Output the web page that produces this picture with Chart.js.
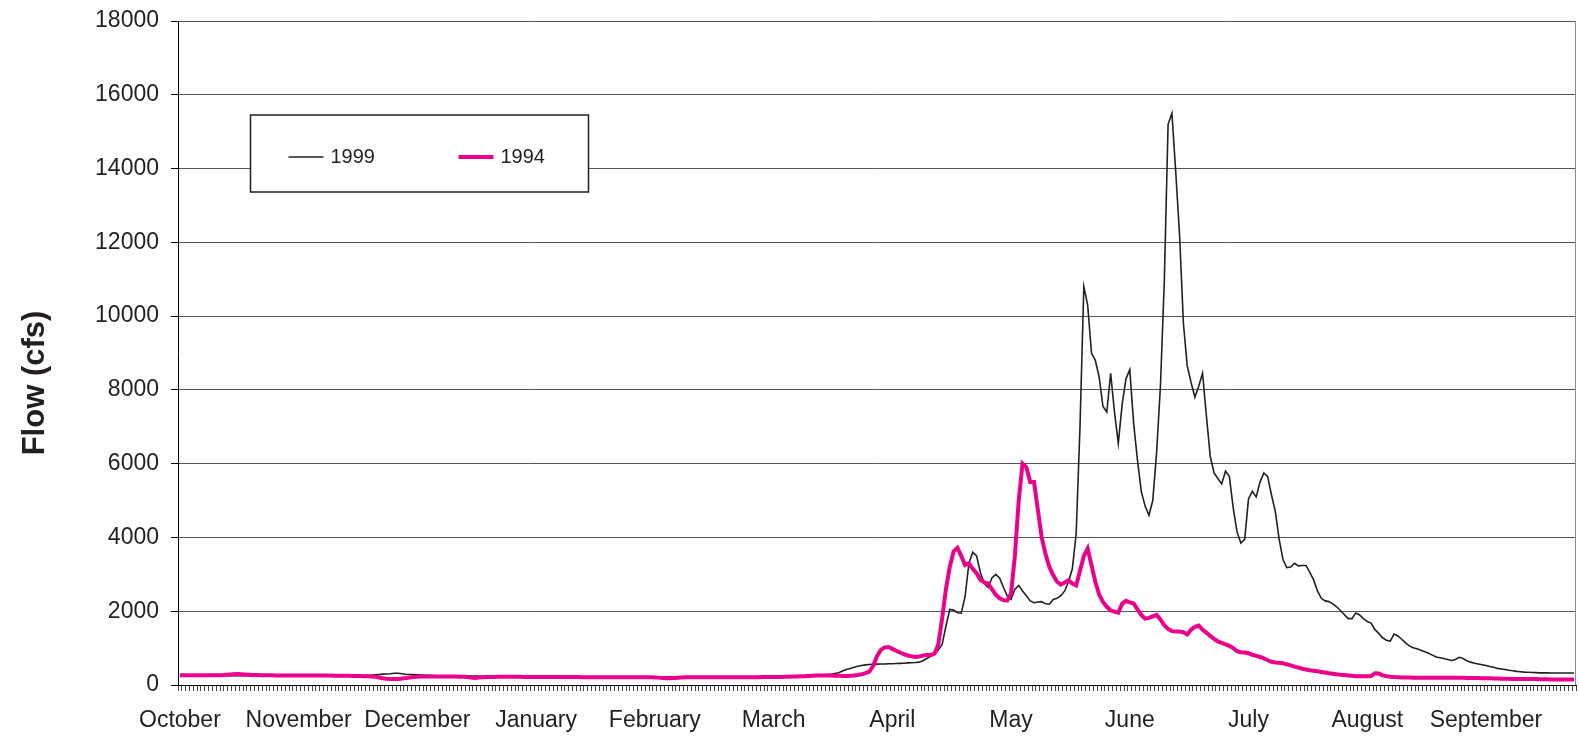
<!DOCTYPE html>
<html>
<head>
<meta charset="utf-8">
<title>Flow 1999 vs 1994</title>
<script src="https://cdn.jsdelivr.net/npm/chart.js@4.4.1/dist/chart.umd.min.js"></script>
<style>
  html, body { margin: 0; padding: 0; background: #fff; }
  #wrap { width: 1579px; height: 740px; }
</style>
</head>
<body>
<div id="wrap"><canvas id="flowChart" width="1579" height="740"></canvas></div>
<script>
// month names shown on the x axis and the day index where each one sits
var monthNames = ["October", "November", "December", "January", "February", "March",
  "April", "May", "June", "July", "August", "September"];
var monthStart = [0, 31, 62, 93, 124, 155, 186, 217, 248, 279, 310, 341];

var yTicks = [0, 2000, 4000, 6000, 8000, 10000, 12000, 14000, 16000, 18000];

// daily flow (cfs), water year Oct -> Sep, 365 days
var flow1999 = [
  250,250,250,250,250,250,250,250,250,250,
  255,260,260,255,250,250,250,250,250,250,
  250,250,250,250,245,245,245,245,245,245,
  245,245,245,245,245,245,245,245,245,245,
  245,245,245,245,245,245,245,250,255,260,
  265,275,285,295,300,305,320,320,305,290,
  285,280,275,270,265,260,255,250,250,250,
  250,250,250,245,245,240,240,240,240,235,
  235,235,235,230,230,230,230,230,230,230,
  230,230,230,225,225,225,225,225,225,225,
  225,225,225,220,220,220,220,220,220,220,
  220,220,220,220,220,220,220,220,220,220,
  220,220,220,220,220,220,220,220,220,220,
  215,215,215,215,215,215,215,215,215,215,
  215,215,215,215,215,215,215,215,215,215,
  215,215,215,220,220,220,225,225,230,230,
  230,235,235,240,240,245,250,255,260,270,
  290,310,330,380,420,450,480,510,530,545,
  555,560,565,568,570,575,578,582,585,590,
  600,605,610,620,660,720,780,840,950,1100,
  1600,2050,2030,1960,1950,2400,3300,3600,3500,3050,
  2750,2650,2900,3000,2900,2650,2420,2320,2600,2700,
  2550,2420,2280,2230,2250,2260,2200,2190,2320,2350,
  2420,2550,2800,3150,4100,7000,10800,10300,9000,8800,
  8350,7550,7400,8450,7400,6550,7600,8300,8550,7100,
  6100,5250,4850,4600,5000,6300,8100,10900,15200,15500,
  13900,12200,9800,8650,8200,7800,8100,8450,7300,6200,
  5750,5600,5450,5800,5650,4800,4150,3850,3950,5050,
  5250,5100,5500,5750,5650,5150,4700,3950,3400,3180,
  3200,3300,3230,3240,3240,3050,2850,2550,2350,2280,
  2260,2200,2120,2020,1910,1800,1800,1950,1900,1800,
  1720,1680,1500,1400,1280,1210,1190,1380,1330,1240,
  1140,1060,1010,980,940,900,860,810,760,740,
  720,690,665,690,750,720,660,620,590,570,
  550,530,500,480,450,435,420,400,385,370,
  360,350,345,340,335,330,330,328,325,325,
  325,325,325,325,325
];

var flow1994 = [
  265,265,265,265,265,265,265,265,262,262,
  262,265,275,285,292,295,290,282,275,270,
  268,265,265,262,262,260,260,260,260,260,
  258,258,258,258,256,256,256,255,255,255,
  252,250,250,248,248,245,245,242,240,236,
  230,222,205,185,168,160,160,165,175,190,
  205,215,222,228,230,232,232,232,232,230,
  230,230,228,226,224,215,200,192,200,210,
  215,218,220,222,222,222,222,222,222,222,
  220,220,220,220,218,218,218,215,215,215,
  215,215,215,215,215,212,212,212,212,212,
  212,212,212,212,210,210,210,210,210,210,
  210,210,208,208,205,200,192,185,182,188,
  198,205,208,208,208,208,208,208,208,208,
  208,208,208,210,210,210,210,210,210,212,
  212,212,214,214,215,216,218,220,222,225,
  228,232,236,240,245,250,255,258,260,262,
  258,252,248,245,245,248,255,270,290,320,
  360,520,780,950,1020,1030,980,930,880,840,
  800,780,760,770,800,810,810,850,1100,1800,
  2600,3200,3620,3720,3500,3250,3300,3150,3030,2850,
  2780,2750,2600,2450,2350,2300,2290,2480,3500,5000,
  6000,5900,5500,5500,4750,4000,3550,3200,2980,2800,
  2720,2780,2840,2750,2700,3100,3500,3700,3250,2800,
  2450,2250,2120,2020,1990,1960,2200,2280,2240,2210,
  2050,1900,1800,1820,1860,1900,1780,1620,1520,1460,
  1450,1450,1430,1370,1500,1580,1610,1500,1420,1330,
  1250,1180,1140,1100,1060,1000,920,890,880,860,
  820,790,760,720,670,630,610,600,590,560,
  530,500,470,440,420,400,385,370,355,340,
  320,305,290,280,270,260,250,240,235,235,
  235,240,320,310,260,240,225,215,210,205,
  200,200,198,196,195,195,195,195,195,195,
  195,195,195,195,195,195,192,190,190,188,
  185,182,180,178,175,172,170,168,165,165,
  165,165,162,160,160,158,155,155,152,150,
  150,150,150,150,150
];

var dayLabels = flow1999.map(function (v, i) {
  var k = monthStart.indexOf(i);
  return k >= 0 ? monthNames[k] : "";
});

var textColor = "#231f20";
var fontFamily = "'Liberation Sans', Arial, sans-serif";

// boxed legend inside the plot + y axis title + right frame line
var extras = {
  id: "extras",
  afterDraw: function (chart) {
    var ctx = chart.ctx;
    var a = chart.chartArea;
    ctx.save();

    // right edge of plot area
    ctx.strokeStyle = "#8a8a8a";
    ctx.lineWidth = 1;
    ctx.beginPath();
    ctx.moveTo(a.right - 0.5, a.top);
    ctx.lineTo(a.right - 0.5, a.bottom);
    ctx.stroke();

    // legend box
    var bx = a.left + 72.5, by = a.top + 94, bw = 338, bh = 77;
    ctx.fillStyle = "#fff";
    ctx.fillRect(bx, by, bw, bh);
    ctx.strokeStyle = textColor;
    ctx.lineWidth = 1.5;
    ctx.strokeRect(bx, by, bw, bh);

    var ly = by + 42;
    var items = [
      { x: bx + 38, ds: chart.data.datasets[0] },
      { x: bx + 208, ds: chart.data.datasets[1] }
    ];
    ctx.font = "20px " + fontFamily;
    ctx.textBaseline = "middle";
    ctx.textAlign = "left";
    items.forEach(function (it) {
      ctx.strokeStyle = it.ds.borderColor;
      ctx.lineWidth = it.ds.borderWidth;
      ctx.beginPath();
      ctx.moveTo(it.x, ly);
      ctx.lineTo(it.x + 35, ly);
      ctx.stroke();
      ctx.fillStyle = textColor;
      ctx.fillText(it.ds.label, it.x + 42, ly);
    });

    // y axis title
    ctx.translate(a.left - 143, a.top + 362);
    ctx.rotate(-Math.PI / 2);
    ctx.font = "bold 31px " + fontFamily;
    ctx.textAlign = "center";
    ctx.fillText("Flow (cfs)", 0, 0);
    ctx.restore();
  }
};

var config = {
  type: "line",
  data: {
    labels: dayLabels,
    datasets: [
      {
        label: "1999",
        data: flow1999,
        borderColor: "#231f20",
        borderWidth: 1.6,
        pointRadius: 0,
        tension: 0,
        fill: false,
        order: 2
      },
      {
        label: "1994",
        data: flow1994,
        borderColor: "#ec008c",
        borderWidth: 4,
        pointRadius: 0,
        tension: 0,
        fill: false,
        order: 1
      }
    ]
  },
  options: {
    responsive: false,
    animation: false,
    layout: { padding: { left: 0, right: 3, top: 21, bottom: 0 } },
    plugins: {
      legend: { display: false },
      tooltip: { enabled: false }
    },
    scales: {
      x: {
        type: "category",
        offset: true,
        afterFit: function (s) {
          s.height = 55;
          s.paddingLeft = 0;
          s.paddingRight = 0;
        },
        border: { display: true, color: "#000", width: 1 },
        grid: {
          display: true,
          offset: true,
          drawOnChartArea: false,
          drawTicks: true,
          tickLength: 6,
          tickColor: "#444"
        },
        ticks: {
          autoSkip: false,
          maxRotation: 0,
          minRotation: 0,
          padding: 16,
          color: textColor,
          font: { family: fontFamily, size: 23 }
        }
      },
      y: {
        min: 0,
        max: 18000,
        afterFit: function (s) {
          s.width = 178;
          s.paddingTop = 0;
          s.paddingBottom = 0;
        },
        afterBuildTicks: function (s) {
          s.ticks = yTicks.map(function (v) { return { value: v }; });
        },
        border: { display: true, color: "#000", width: 1 },
        grid: {
          color: "#555",
          lineWidth: 1,
          drawTicks: true,
          tickLength: 7,
          tickColor: "#000"
        },
        ticks: {
          padding: 12,
          color: textColor,
          font: { family: fontFamily, size: 23 },
          callback: function (v) { return String(v); }
        }
      }
    }
  },
  plugins: [extras]
};

var chart = new Chart(document.getElementById("flowChart"), config);
</script>
</body>
</html>
